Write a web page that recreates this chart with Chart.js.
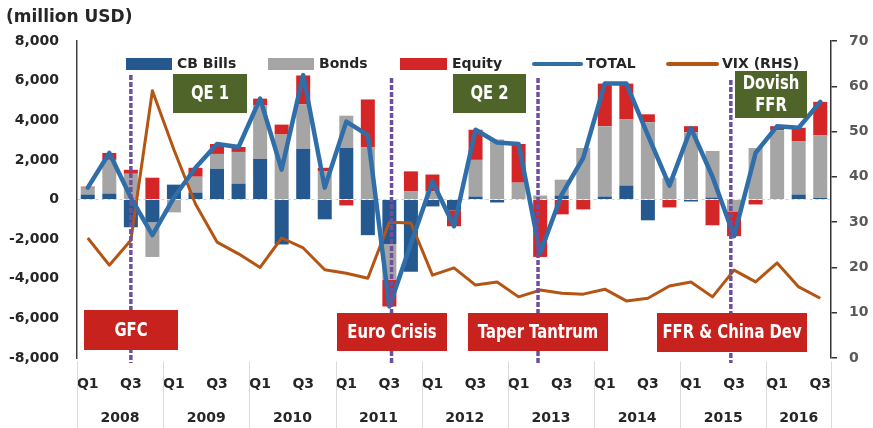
<!DOCTYPE html>
<html>
<head>
<meta charset="utf-8">
<script src="https://cdn.jsdelivr.net/npm/chart.js@4.4.0/dist/chart.umd.min.js"></script>
<style>
    body { margin: 0; background: #fff; }
    #wrap { width: 873px; height: 428px; position: relative; }
</style>
</head>
<body>
<div id="wrap"><canvas id="flowsChart"></canvas></div>
<script>
// quarterly flows, 2008 Q1 - 2016 Q3 (million USD)
const quarterLabels = [
    'Q1', '', 'Q3', '', 'Q1', '', 'Q3', '', 'Q1', '', 'Q3', '',
    'Q1', '', 'Q3', '', 'Q1', '', 'Q3', '', 'Q1', '', 'Q3', '',
    'Q1', '', 'Q3', '', 'Q1', '', 'Q3', '', 'Q1', '', 'Q3'
];
const years = ['2008', '2009', '2010', '2011', '2012', '2013', '2014', '2015', '2016'];

const cbBills = [250, 300, -1400, -1150, 750, 350, 1550, 800, 2050, -2270, 2560, -1000,
    2600, -1800, -2250, -3650, -350, -550, 150, -150, 0, 0, 200, 0,
    150, 700, -1050, 0, -100, 100, 0, 0, 0, 250, 80];
const bonds = [350, 1700, 1300, -1750, -650, 800, 750, 1600, 2700, 3280, 2240, 1430,
    1630, 2630, -1800, 420, 420, 0, 1850, 3030, 850, 200, 800, 2600,
    3550, 3350, 3900, 1100, 3400, 2350, -600, 2600, 3500, 2700, 3170];
const equity = [50, 350, 200, 1100, 0, 450, 500, 250, 340, 500, 1460, 170,
    -300, 2420, -1350, 1000, 840, -800, 1520, 0, 1950, -2900, -750, -500,
    2150, 1800, 400, -400, 300, -1300, -1250, -250, 200, 670, 1680];
const total = [600, 2350, 100, -1800, 100, 1600, 2800, 2650, 5090, 1510, 6280, 600,
    3930, 3250, -5400, -2230, 910, -1350, 3520, 2880, 2800, -2700, 250, 2100,
    5850, 5850, 3250, 700, 3600, 1150, -1850, 2350, 3700, 3620, 4930];
const vix = [26.5, 20.5, 26, 59, 46, 34, 25.6, 23, 20, 26.5, 24.3, 19.5,
    18.7, 17.6, 30, 29.8, 18.3, 19.9, 16.1, 16.8, 13.5, 15, 14.3, 14.1,
    15.2, 12.6, 13.2, 15.9, 16.8, 13.5, 19.4, 16.8, 21, 15.7, 13.2];

// event markers (quarter index) and the labels around them
const eventQuarter = [2, 14.1, 20.9, 29.85];
const eventTop = [75, 78, 78, 80];

const COLORS = {
    cb: '#25588F', bonds: '#A5A5A5', equity: '#D42626',
    total: '#2F6EA9', vix: '#B45514',
    green: '#4F6428', red: '#C8221F', purple: '#6E4E9E'
};

const labelBoxes = [
    { lines: ['QE 1'], x: 173, y: 74, w: 74, h: 39, fill: COLORS.green },
    { lines: ['QE 2'], x: 453, y: 74, w: 73, h: 39, fill: COLORS.green },
    { lines: ['Dovish', 'FFR'], x: 735, y: 71, w: 72, h: 47, fill: COLORS.green },
    { lines: ['GFC'], x: 84, y: 310, w: 94, h: 40, fill: COLORS.red },
    { lines: ['Euro Crisis'], x: 337, y: 313, w: 110, h: 38, fill: COLORS.red },
    { lines: ['Taper Tantrum'], x: 468, y: 313, w: 140, h: 38, fill: COLORS.red },
    { lines: ['FFR & China Dev'], x: 657, y: 313, w: 150, h: 39, fill: COLORS.red }
];

const legendItems = [
    { kind: 'bar', color: COLORS.cb, x: 126, w: 46, text: 'CB Bills' },
    { kind: 'bar', color: COLORS.bonds, x: 268, w: 46, text: 'Bonds' },
    { kind: 'bar', color: COLORS.equity, x: 400, w: 47, text: 'Equity' },
    { kind: 'line', color: COLORS.total, x: 534, w: 47, text: 'TOTAL' },
    { kind: 'line', color: COLORS.vix, x: 668, w: 49, text: 'VIX (RHS)' }
];

const FONT = '"DejaVu Sans", Verdana, sans-serif';

const overlayPlugin = {
    id: 'overlay',
    afterDatasetsDraw(chart) {
        const { ctx, scales: { x } } = chart;
        ctx.save();
        ctx.strokeStyle = COLORS.purple;
        ctx.lineWidth = 3.5;
        ctx.setLineDash([5, 2]);
        eventQuarter.forEach((q, k) => {
            const px = x.getPixelForValue(q);
            ctx.beginPath();
            ctx.moveTo(px, eventTop[k]);
            ctx.lineTo(px, 363);
            ctx.stroke();
        });
        ctx.setLineDash([]);

        ctx.textAlign = 'center';
        ctx.textBaseline = 'middle';
        ctx.font = 'bold 19px ' + FONT;
        labelBoxes.forEach(b => {
            ctx.fillStyle = b.fill;
            ctx.fillRect(b.x, b.y, b.w, b.h);
            ctx.fillStyle = '#fff';
            const lh = 22;
            const y0 = b.y + b.h / 2 - (b.lines.length - 1) * lh / 2 + 1;
            b.lines.forEach((t, i) => {
                // condensed look: squeeze the text horizontally
                ctx.save();
                ctx.translate(b.x + b.w / 2, y0 + i * lh);
                ctx.scale(0.78, 1);
                ctx.fillText(t, 0, 0);
                ctx.restore();
            });
        });
        ctx.restore();
    },
    afterDraw(chart) {
        const { ctx, scales: { x } } = chart;
        ctx.save();
        // unit label
        ctx.fillStyle = '#262626';
        ctx.font = 'bold 17px ' + FONT;
        ctx.textBaseline = 'middle';
        ctx.textAlign = 'left';
        ctx.fillText('(million USD)', 6, 18);

        // legend
        ctx.font = 'bold 14px ' + FONT;
        legendItems.forEach(it => {
            if (it.kind === 'bar') {
                ctx.fillStyle = it.color;
                ctx.fillRect(it.x, 58, it.w, 12);
            } else {
                ctx.strokeStyle = it.color;
                ctx.lineWidth = 4;
                ctx.lineCap = 'round';
                ctx.beginPath();
                ctx.moveTo(it.x, 64);
                ctx.lineTo(it.x + it.w, 64);
                ctx.stroke();
            }
            ctx.fillStyle = '#262626';
            ctx.fillText(it.text, it.x + it.w + 5, 64);
        });

        // year row with separators
        const n = quarterLabels.length;
        const half = (x.getPixelForValue(1) - x.getPixelForValue(0)) / 2;
        ctx.strokeStyle = '#DADADA';
        ctx.lineWidth = 1;
        ctx.textAlign = 'center';
        years.forEach((yr, k) => {
            const s = k * 4;
            const e = Math.min(s + 3, n - 1);
            const left = x.getPixelForValue(s) - half;
            const right = x.getPixelForValue(e) + half;
            ctx.beginPath();
            ctx.moveTo(Math.round(left) + 0.5, 362);
            ctx.lineTo(Math.round(left) + 0.5, 428);
            ctx.stroke();
            if (k === years.length - 1) {
                ctx.beginPath();
                ctx.moveTo(Math.round(right) + 0.5, 362);
                ctx.lineTo(Math.round(right) + 0.5, 428);
                ctx.stroke();
            }
            ctx.fillStyle = '#262626';
            ctx.fillText(yr, (left + right) / 2, 418);
        });
        ctx.restore();
    }
};

const barCommon = { type: 'bar', stack: 'flows', yAxisID: 'y', order: 2,
    barPercentage: 0.65, categoryPercentage: 1.0, borderWidth: 0 };

new Chart(document.getElementById('flowsChart'), {
    data: {
        labels: quarterLabels,
        datasets: [
            { ...barCommon, label: 'CB Bills', data: cbBills, backgroundColor: COLORS.cb },
            { ...barCommon, label: 'Bonds', data: bonds, backgroundColor: COLORS.bonds },
            { ...barCommon, label: 'Equity', data: equity, backgroundColor: COLORS.equity },
            { type: 'line', label: 'TOTAL', data: total, yAxisID: 'y', order: 0,
              borderColor: COLORS.total, borderWidth: 4.5, pointRadius: 0, tension: 0,
              borderJoinStyle: 'round', borderCapStyle: 'round', fill: false },
            { type: 'line', label: 'VIX (RHS)', data: vix, yAxisID: 'y1', order: 1,
              borderColor: COLORS.vix, borderWidth: 3, pointRadius: 0, tension: 0,
              borderJoinStyle: 'round', fill: false }
        ]
    },
    options: {
        responsive: true,
        maintainAspectRatio: false,
        animation: false,
        layout: { padding: { top: 41, left: 0, right: 0, bottom: 0 } },
        plugins: { legend: { display: false }, tooltip: { enabled: false } },
        scales: {
            x: {
                grid: { display: false },
                border: { display: false },
                ticks: { autoSkip: false, maxRotation: 0, padding: 10, color: '#262626',
                         font: { family: FONT, size: 14, weight: 'bold' } },
                afterFit: s => { s.height = 70; }
            },
            y: {
                position: 'left',
                min: -8000, max: 8000,
                ticks: { stepSize: 2000, padding: 18, color: '#262626',
                         font: { family: FONT, size: 14, weight: 'bold' },
                         callback: v => v.toLocaleString('en-US') },
                grid: { drawTicks: false,
                        color: c => c.tick && c.tick.value === 0 ? '#D0D0D0' : 'rgba(0,0,0,0)' },
                border: { display: true, color: '#404040', width: 1.5, dash: [3, 3] },
                afterFit: s => { s.width = 77; }
            },
            y1: {
                position: 'right',
                min: 0, max: 70,
                ticks: { stepSize: 10, padding: 12, color: '#595959',
                         font: { family: FONT, size: 14, weight: 'bold' } },
                grid: { drawOnChartArea: false, drawTicks: true, tickLength: 6,
                        color: '#333', lineWidth: 1.5 },
                border: { display: true, color: '#333', width: 1.5 },
                afterFit: s => { s.width = 42; }
            }
        }
    },
    plugins: [overlayPlugin]
});
</script>
</body>
</html>
